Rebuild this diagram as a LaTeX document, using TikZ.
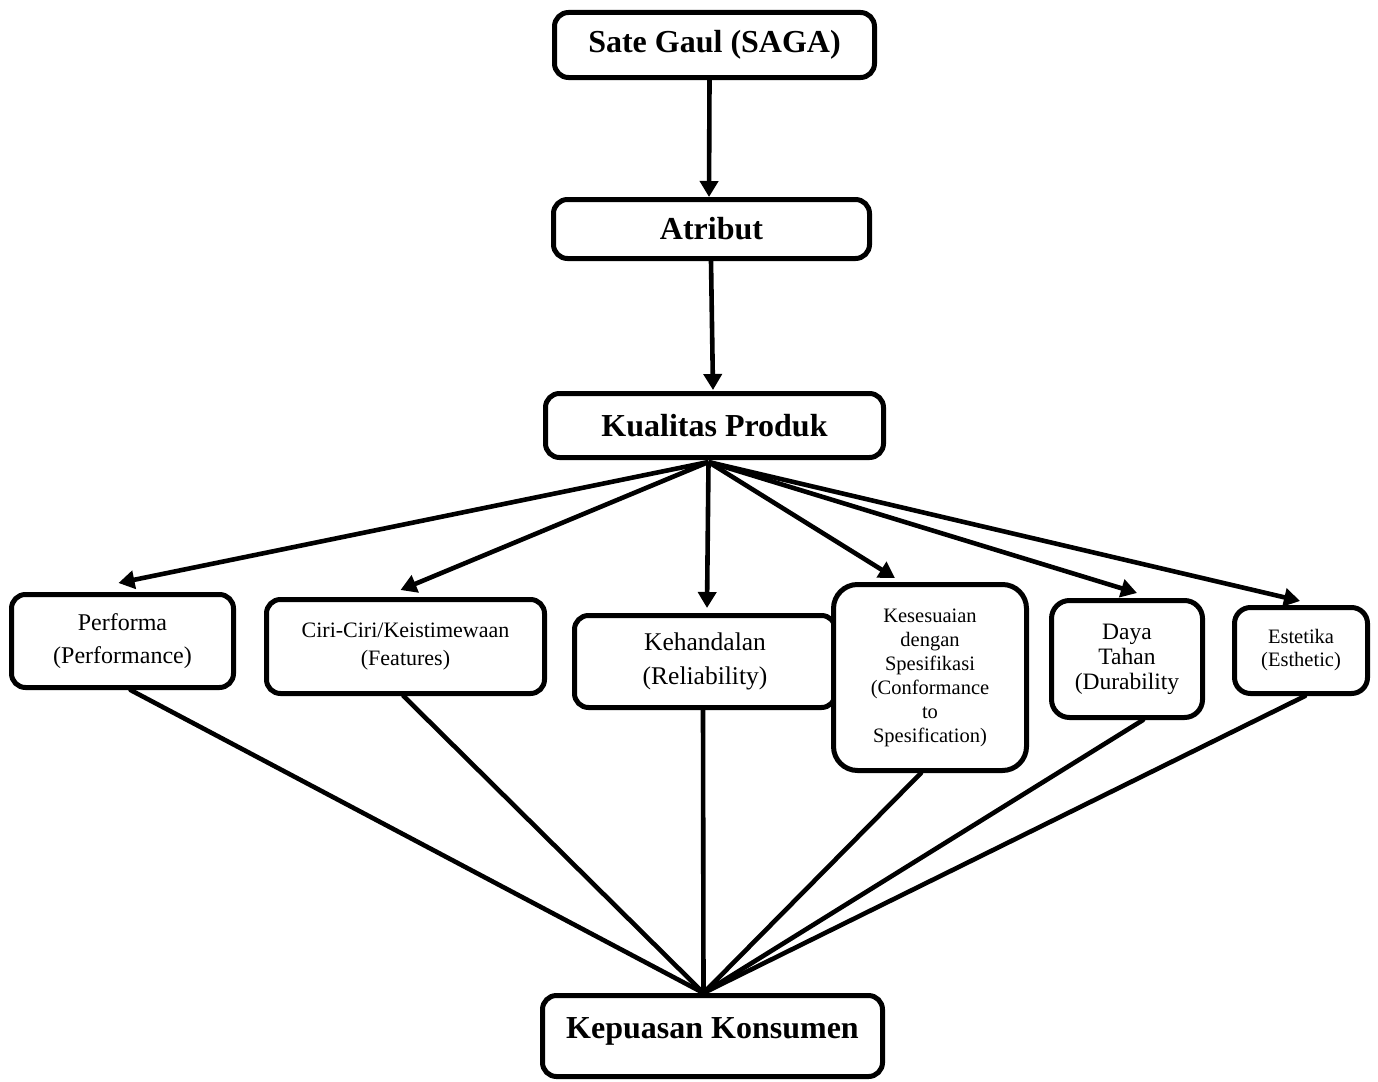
\documentclass[tikz,border=0pt]{standalone}
\usepackage{fontspec}
\setmainfont{Liberation Serif}
\usetikzlibrary{arrows.meta,calc}
\begin{document}
\begin{tikzpicture}[x=1pt,y=-1pt,
  box/.style={draw=black,line width=5pt,rounded corners=14pt,fill=white,align=center,inner sep=0pt},
  head/.style={box,font=\fontsize{32}{38}\selectfont\bfseries},
  arr/.style={line width=4.6pt,-{Triangle[length=16pt,width=18pt]}},
  ln/.style={line width=4.6pt,line cap=round}]
\useasboundingbox (0,0) rectangle (1378,1081);
% top chain
\node[head,minimum width=320pt,minimum height=65pt] (sate) at (714.5,45) {Sate Gaul (SAGA)};
\node[head,minimum width=316pt,minimum height=59pt] (atr) at (711.5,229) {Atribut};
\node[head,minimum width=338pt,minimum height=64pt] (kual) at (714.5,425.5) {Kualitas Produk};
% dimensions
\node[box,minimum width=222pt,minimum height=93pt,font=\fontsize{24}{33}\selectfont] (perf) at (122.5,641) {Performa\\(Performance)};
\node[box,minimum width=278pt,minimum height=94pt,font=\fontsize{22}{28}\selectfont] (ciri) at (405.5,646.5) {Ciri-Ciri/Keistimewaan\\(Features)};
\node[box,minimum width=261pt,minimum height=92pt,font=\fontsize{25.5}{34}\selectfont] (keh) at (705,661.5) {Kehandalan\\(Reliability)};
\node[box,rounded corners=24pt,minimum width=193pt,minimum height=186pt,font=\fontsize{20.5}{24}\selectfont] (kes) at (930,677.5) {Kesesuaian\\dengan\\Spesifikasi\\(Conformance\\to\\Spesification)};
\node[box,rounded corners=18pt,minimum width=151pt,minimum height=117pt,font=\fontsize{23.5}{25}\selectfont] (daya) at (1127,659) {Daya\\Tahan\\(Durability};
\node[box,rounded corners=16pt,minimum width=133pt,minimum height=86pt,font=\fontsize{20.5}{23}\selectfont] (est) at (1301,650.5) {Estetika\\(Esthetic)};
% bottom
\node[head,minimum width=340pt,minimum height=81pt,text depth=16pt] (kep) at (712.5,1036) {Kepuasan Konsumen};
% hubs
\coordinate (hub) at ($(kual.south)+(-6,2)$);
\coordinate (sink) at ($(kep.north)+(-9,0)$);
% arrows
\draw[arr] ($(sate.south)+(-5,0)$) -- ($(atr.north)+(-2.5,0)$);
\draw[arr] ($(atr.south)+(-0.5,0)$) -- ($(kual.north)+(-1.5,-1)$);
\draw[arr] (hub) -- ($(perf.north)+(-4,-9)$);
\draw[arr] (hub) -- ($(ciri.north)+(-5,-7)$);
\draw[arr] (hub) -- ($(keh.north)+(2,-5)$);
\draw[arr] (hub) -- ($(kes.north)+(-35,-4)$);
\draw[arr] (hub) -- ($(daya.north)+(10,-5)$);
\draw[arr] (hub) -- ($(est.north)+(-1,-4)$);
% lines
\draw[ln] ($(perf.south)+(8,0)$) -- (sink);
\draw[ln] ($(ciri.south)+(-2,0)$) -- (sink);
\draw[ln] ($(keh.south)+(-2,0)$) -- (sink);
\draw[ln] ($(kes.south)+(-9,0)$) -- (sink);
\draw[ln] ($(daya.south)+(16,0)$) -- (sink);
\draw[ln] ($(est.south)+(4,0)$) -- (sink);
\end{tikzpicture}
\end{document}
